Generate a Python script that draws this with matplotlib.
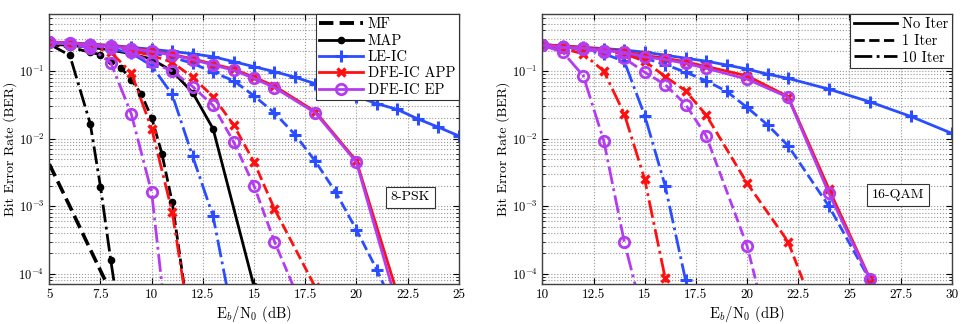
import numpy as np
import matplotlib
matplotlib.use("Agg")
import matplotlib.pyplot as plt
from matplotlib.lines import Line2D
from matplotlib.ticker import FixedLocator, LogLocator, NullFormatter

plt.rcParams['font.family'] = ['cmr10', 'DejaVu Serif']
plt.rcParams['mathtext.fontset'] = 'cm'
plt.rcParams['axes.formatter.use_mathtext'] = True
plt.rcParams['axes.unicode_minus'] = False

# colours per receiver
c_map = 'black'
c_le = '#2a4dff'
c_app = '#ff1010'
c_ep = '#b43cf0'

## 8-PSK (left panel) ##
psk_mf_x = [5, 6, 7, 8]
psk_mf_y = [4.2e-3, 1.0e-3, 2.3e-4, 5.4e-5]

psk_map0_x = [5, 6, 7, 8, 9, 10, 11, 12, 13, 15]
psk_map0_y = [0.25, 0.24, 0.225, 0.205, 0.18, 0.15, 0.1, 0.048, 0.014, 6.5e-5]
psk_map1_x = [5, 6, 7, 7.5, 8, 8.5, 9, 9.5, 10, 10.5, 11, 12]
psk_map1_y = [0.25, 0.225, 0.19, 0.175, 0.14, 0.112, 0.075, 0.045, 0.0204, 6.0e-3, 1.15e-3, 9e-6]
psk_map10_x = [5, 6, 7, 7.5, 8, 8.5]
psk_map10_y = [0.25, 0.171, 0.0166, 1.94e-3, 1.6e-4, 1.6e-5]

psk_le0_x = [5, 6, 7, 8, 9, 10, 11, 12, 13, 14, 15, 16, 17, 18, 19, 20, 21, 22, 23, 24, 25]
psk_le0_y = [0.27, 0.26, 0.25, 0.24, 0.225, 0.21, 0.195, 0.18, 0.163, 0.138, 0.116, 0.098,
             0.081, 0.065, 0.052, 0.042, 0.033, 0.027, 0.0196, 0.0148, 0.011]
psk_le1_x = [5, 6, 7, 8, 9, 10, 11, 12, 13, 14, 15, 16, 17, 18, 19, 20, 21, 22]
psk_le1_y = [0.265, 0.255, 0.24, 0.225, 0.205, 0.185, 0.16, 0.13, 0.096, 0.072, 0.043, 0.024,
             0.0115, 4.6e-3, 1.6e-3, 4.5e-4, 1.15e-4, 2.5e-5]
psk_le10_x = [5, 6, 7, 8, 9, 10, 11, 12, 13, 14]
psk_le10_y = [0.265, 0.25, 0.235, 0.215, 0.185, 0.12, 0.045, 5.5e-3, 7.1e-4, 2e-5]

psk_app0_x = [5, 6, 7, 8, 9, 10, 11, 12, 13, 14, 15, 16, 18, 20, 22]
psk_app0_y = [0.27, 0.262, 0.25, 0.237, 0.22, 0.2, 0.176, 0.152, 0.127, 0.107, 0.081, 0.06,
              0.025, 4.7e-3, 5.1e-5]
psk_app1_x = [5, 6, 7, 8, 9, 10, 11, 12, 13, 14, 15, 16, 18]
psk_app1_y = [0.265, 0.255, 0.24, 0.225, 0.2, 0.17, 0.135, 0.081, 0.042, 0.016, 4.5e-3, 9.1e-4, 6.3e-5]
psk_app10_x = [5, 6, 7, 8, 9, 10, 11, 12]
psk_app10_y = [0.265, 0.25, 0.23, 0.19, 0.095, 0.014, 8.3e-4, 1e-5]

psk_ep0_x = [5, 6, 7, 8, 9, 10, 11, 12, 13, 14, 15, 16, 18, 20, 22]
psk_ep0_y = [0.267, 0.258, 0.246, 0.232, 0.215, 0.195, 0.172, 0.148, 0.123, 0.103, 0.078, 0.057,
             0.024, 4.5e-3, 3.4e-5]
psk_ep1_x = [5, 6, 7, 8, 9, 10, 11, 12, 13, 14, 15, 16, 18]
psk_ep1_y = [0.265, 0.255, 0.24, 0.22, 0.19, 0.135, 0.1, 0.059, 0.031, 9e-3, 2e-3, 3.0e-4, 1.1e-5]
psk_ep10_x = [5, 6, 7, 8, 9, 10, 11]
psk_ep10_y = [0.265, 0.25, 0.22, 0.133, 0.0234, 1.6e-3, 3e-6]

## 16-QAM (right panel) ##
qam_le0_x = [10, 11, 12, 13, 14, 15, 16, 17, 18, 19, 20, 21, 22, 24, 26, 28, 30]
qam_le0_y = [0.245, 0.235, 0.225, 0.215, 0.205, 0.19, 0.172, 0.155, 0.14, 0.123, 0.107, 0.09,
             0.078, 0.054, 0.035, 0.0213, 0.012]
qam_le1_x = [10, 11, 12, 13, 14, 15, 16, 17, 18, 19, 20, 21, 22, 24, 26]
qam_le1_y = [0.24, 0.23, 0.215, 0.2, 0.18, 0.155, 0.125, 0.096, 0.072, 0.05, 0.029, 0.016,
             7.9e-3, 1.0e-3, 8.1e-5]
qam_le10_x = [10, 11, 12, 13, 14, 15, 16, 17, 18]
qam_le10_y = [0.24, 0.225, 0.205, 0.18, 0.14, 0.022, 2.0e-3, 8e-5, 3e-6]

qam_app0_x = [10, 11, 12, 13, 14, 15, 16, 17, 18, 20, 22, 24, 26]
qam_app0_y = [0.25, 0.232, 0.224, 0.207, 0.196, 0.17, 0.155, 0.137, 0.117, 0.085, 0.042, 1.8e-3, 8.5e-5]
qam_app1_x = [10, 11, 12, 13, 14, 15, 16, 17, 18, 20, 22, 24]
qam_app1_y = [0.245, 0.235, 0.22, 0.2, 0.18, 0.14, 0.083, 0.051, 0.0224, 2.2e-3, 3.0e-4, 8e-6]
qam_app10_x = [10, 11, 12, 13, 14, 15, 16, 17]
qam_app10_y = [0.24, 0.215, 0.18, 0.1, 0.0233, 2.5e-3, 8.7e-5, 2e-6]

qam_ep0_x = [10, 11, 12, 13, 14, 15, 16, 17, 18, 20, 22, 24, 26]
qam_ep0_y = [0.245, 0.224, 0.219, 0.2, 0.19, 0.162, 0.148, 0.13, 0.11, 0.076, 0.041, 1.55e-3, 8.3e-5]
qam_ep1_x = [10, 11, 12, 13, 14, 15, 16, 17, 18, 20, 22]
qam_ep1_y = [0.24, 0.225, 0.21, 0.19, 0.155, 0.096, 0.063, 0.032, 0.011, 2.6e-4, 1e-6]
qam_ep10_x = [10, 11, 12, 13, 14, 15]
qam_ep10_y = [0.24, 0.19, 0.085, 9.3e-3, 3.0e-4, 1.9e-5]

psk_xticks = [5, 7.5, 10, 12.5, 15, 17.5, 20, 22.5, 25]
qam_xticks = [10, 12.5, 15, 17.5, 20, 22.5, 25, 27.5, 30]

LW = 2.0
FS = 10

# marker styles per receiver
sty_map = dict(color=c_map, marker='o', ms=4.5, mfc=c_map, mew=1)
sty_le = dict(color=c_le, marker='+', ms=8.5, mew=2.2)
sty_app = dict(color=c_app, marker='x', ms=5.5, mew=2.4)
sty_ep = dict(color=c_ep, marker='o', ms=7.5, mfc='none', mew=2)


def curve(ax, x, y, ls, sty, lw=LW):
    ax.semilogy(x, y, ls=ls, lw=lw, **sty)


def setup_axes(ax, xlim, xticks, tag, tag_pos):
    ax.set_xlim(xlim)
    ax.set_ylim(7e-5, 0.7)
    ax.xaxis.set_major_locator(FixedLocator(xticks))
    ax.set_xticklabels(['%g' % t for t in xticks])
    ax.yaxis.set_major_locator(LogLocator(base=10, numticks=10))
    ax.yaxis.set_minor_locator(LogLocator(base=10, subs=np.arange(2, 10), numticks=20))
    ax.yaxis.set_minor_formatter(NullFormatter())
    ax.grid(True, which='major', ls=':', color='0.6', lw=0.8)
    ax.grid(True, which='minor', axis='y', ls=':', color='0.6', lw=0.8)
    ax.tick_params(which='both', direction='in', top=True, right=True, labelsize=FS - 1)
    ax.tick_params(axis='x', labelsize=FS - 0.5)
    ax.tick_params(which='major', length=4, pad=3.5)
    ax.tick_params(which='minor', length=2)
    for sp in ax.spines.values():
        sp.set_color('0.25')
        sp.set_linewidth(1.0)
    ax.set_xlabel(r'$\mathrm{E}_b/\mathrm{N}_0$ (dB)', fontsize=FS + 0.5, labelpad=2)
    ax.set_ylabel('Bit Error Rate (BER)', fontsize=FS, va='center')
    ax.yaxis.set_label_coords(-0.095, 0.5)
    ax.text(tag_pos[0], tag_pos[1], tag, fontsize=FS, ha='center', va='center',
            bbox=dict(boxstyle='square,pad=0.35', fc='white', ec='0.2', lw=0.8), zorder=5)


fig = plt.figure(figsize=(9.69, 3.24), dpi=100)
ax1 = fig.add_axes([0.0509, 0.1225, 0.4225, 0.8345])
ax2 = fig.add_axes([0.5597, 0.1225, 0.4225, 0.8345])

# left panel
curve(ax1, psk_mf_x, psk_mf_y, '--', dict(color='black'), lw=2.6)
curve(ax1, psk_map0_x, psk_map0_y, '-', sty_map)
curve(ax1, psk_map1_x, psk_map1_y, '--', sty_map)
curve(ax1, psk_map10_x, psk_map10_y, '-.', sty_map)
curve(ax1, psk_le0_x, psk_le0_y, '-', sty_le)
curve(ax1, psk_le1_x, psk_le1_y, '--', sty_le)
curve(ax1, psk_le10_x, psk_le10_y, '-.', sty_le)
curve(ax1, psk_app0_x, psk_app0_y, '-', sty_app)
curve(ax1, psk_app1_x, psk_app1_y, '--', sty_app)
curve(ax1, psk_app10_x, psk_app10_y, '-.', sty_app)
curve(ax1, psk_ep0_x, psk_ep0_y, '-', sty_ep)
curve(ax1, psk_ep1_x, psk_ep1_y, '--', sty_ep)
curve(ax1, psk_ep10_x, psk_ep10_y, '-.', sty_ep)
setup_axes(ax1, (5, 25), psk_xticks, '8-PSK', (22.64, 1.35e-3))

leg1_handles = [
    Line2D([], [], color='black', ls='--', lw=2.8),
    Line2D([], [], ls='-', lw=LW, **sty_map),
    Line2D([], [], ls='-', lw=LW, **sty_le),
    Line2D([], [], ls='-', lw=LW, **sty_app),
    Line2D([], [], ls='-', lw=LW, **sty_ep),
]
leg1_labels = ['MF', 'MAP', 'LE-IC', 'DFE-IC APP', 'DFE-IC EP']
leg1 = ax1.legend(leg1_handles, leg1_labels, loc='upper right', bbox_to_anchor=(1, 1),
                  borderaxespad=0, fancybox=False, edgecolor='0.2', framealpha=1,
                  fontsize=FS + 0.5, handlelength=3.0, handletextpad=0.3, labelspacing=0.18,
                  borderpad=0.25)
leg1.get_frame().set_linewidth(0.8)

# right panel
curve(ax2, qam_le0_x, qam_le0_y, '-', sty_le)
curve(ax2, qam_le1_x, qam_le1_y, '--', sty_le)
curve(ax2, qam_le10_x, qam_le10_y, '-.', sty_le)
curve(ax2, qam_app0_x, qam_app0_y, '-', sty_app)
curve(ax2, qam_app1_x, qam_app1_y, '--', sty_app)
curve(ax2, qam_app10_x, qam_app10_y, '-.', sty_app)
curve(ax2, qam_ep0_x, qam_ep0_y, '-', sty_ep)
curve(ax2, qam_ep1_x, qam_ep1_y, '--', sty_ep)
curve(ax2, qam_ep10_x, qam_ep10_y, '-.', sty_ep)
setup_axes(ax2, (10, 30), qam_xticks, '16-QAM', (27.39, 1.45e-3))

leg2_handles = [Line2D([], [], color='black', ls=s, lw=LW) for s in ['-', '--', '-.']]
leg2 = ax2.legend(leg2_handles, ['No Iter', '1 Iter', '10 Iter'], loc='upper right',
                  bbox_to_anchor=(1, 1), borderaxespad=0, fancybox=False, edgecolor='0.2',
                  framealpha=1, fontsize=FS + 0.5, handlelength=3.0, handletextpad=0.3,
                  labelspacing=0.2, borderpad=0.25)
leg2.get_frame().set_linewidth(0.8)

fig.savefig('out.png', dpi=100)
